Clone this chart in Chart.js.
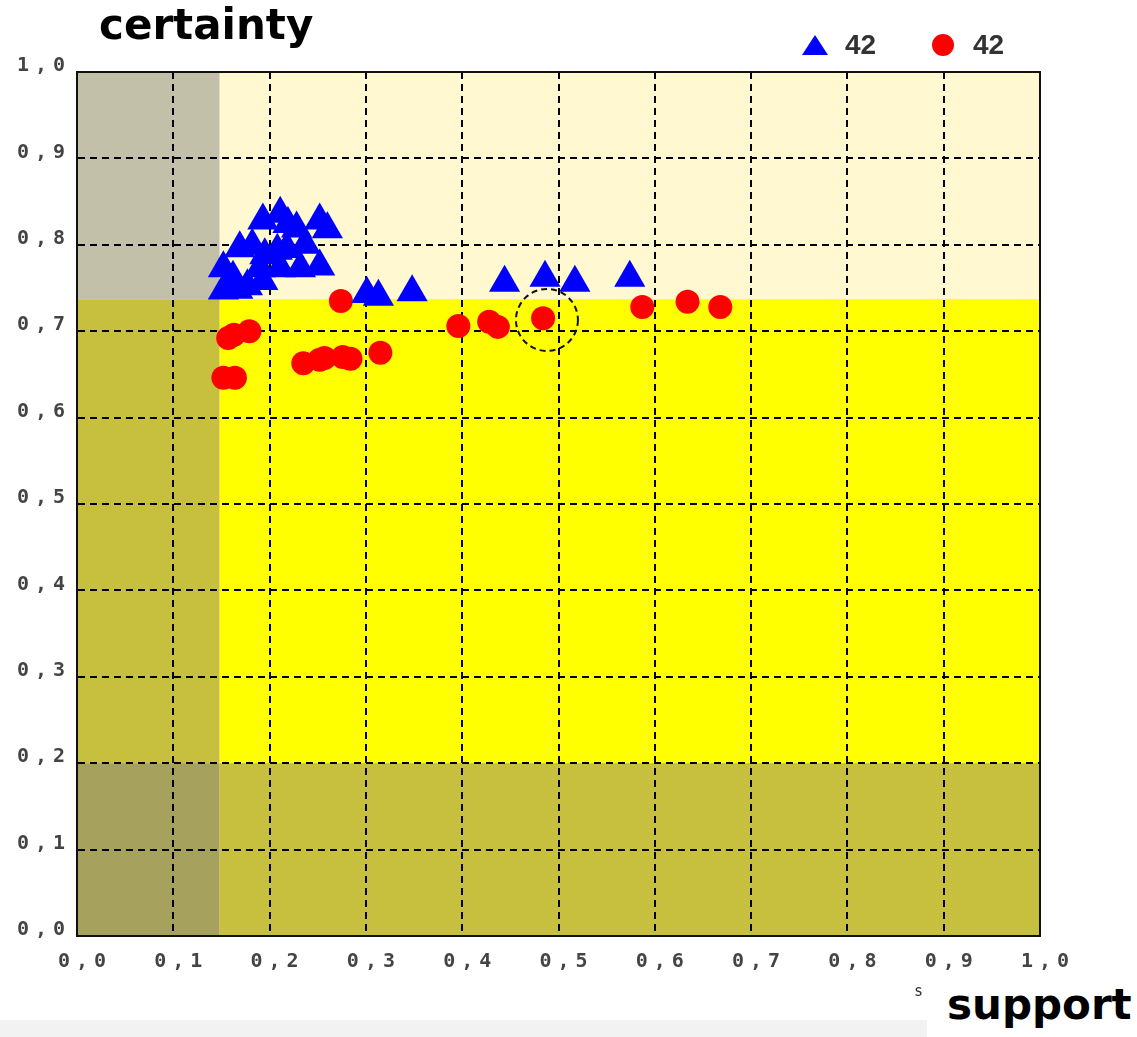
<!DOCTYPE html>
<html>
<head>
<meta charset="utf-8">
<script src="https://cdn.jsdelivr.net/npm/chart.js@4/dist/chart.umd.min.js"></script>
<style>
  body { margin: 0; background: #fff; }
  #wrap { position: relative; width: 1137px; height: 1037px; overflow: hidden; }
  #c { position: absolute; left: 0; top: 0; }
  .strip { position: absolute; left: 0; top: 1020px; width: 930px; height: 17px; background: #f2f2f2; }
  .big { position: absolute; font-family: "DejaVu Sans"; font-weight: bold; font-size: 42px; line-height: 42px; color: #000; background: #fff; }
  .cut { position: absolute; left: 914px; top: 982px; font-family: "DejaVu Sans Mono"; font-size: 15px; color: #333; }
  .legend { position: absolute; top: 30px; font-family: "Liberation Sans"; font-weight: bold; font-size: 28px; line-height: 30px; color: #333; }
  .legend span { position: absolute; }
  .tri { width: 0; height: 0; border-left: 13px solid transparent; border-right: 13px solid transparent; border-bottom: 20px solid #0000ff; }
  .dot { width: 22px; height: 22px; border-radius: 50%; background: #ff0000; }
</style>
</head>
<body>
<div id="wrap">
  <canvas id="c" width="1137" height="1037"></canvas>
  <div class="strip"></div>
  <div class="cut">s</div>
  <div class="big" style="left:99px; top:4px; padding-right:10px;">certainty</div>
  <div class="big" style="left:927px; top:978px; width:190px; height:59px; padding-left:20px; padding-top:6px; box-sizing:content-box;">support</div>
  <div id="legend"></div>
</div>
<script>
  // series labels (legend shows the count)
  const seriesNames = ['42', '42'];

  // blue triangles
  const triSupport =   [0.211, 0.193, 0.219, 0.252, 0.228, 0.260, 0.169, 0.182, 0.208, 0.218, 0.152, 0.252, 0.162, 0.152, 0.193, 0.177, 0.232, 0.211, 0.190, 0.167, 0.237, 0.195, 0.301, 0.313, 0.348, 0.444, 0.486, 0.517, 0.574];
  const triCertainty = [0.836, 0.828, 0.824, 0.828, 0.819, 0.818, 0.796, 0.799, 0.793, 0.795, 0.773, 0.775, 0.762, 0.747, 0.758, 0.752, 0.773, 0.773, 0.773, 0.748, 0.800, 0.788, 0.743, 0.740, 0.745, 0.756, 0.762, 0.756, 0.762];

  // red circles
  const dotSupport =   [0.274, 0.157, 0.163, 0.179, 0.152, 0.164, 0.235, 0.252, 0.257, 0.276, 0.284, 0.315, 0.396, 0.428, 0.437, 0.484, 0.587, 0.634, 0.668];
  const dotCertainty = [0.735, 0.692, 0.696, 0.700, 0.646, 0.646, 0.663, 0.667, 0.669, 0.670, 0.668, 0.675, 0.706, 0.711, 0.705, 0.715, 0.728, 0.734, 0.728];

  // background zones
  const supportMin = 0.148;
  const certaintyHigh = 0.737;
  const certaintyLow = 0.2;

  // dashed ring around the selected rule
  const selected = { x: 0.488, y: 0.713 };

  const fmt = v => v.toFixed(1).replace('.', ',');
  const tickFont = { family: 'DejaVu Sans Mono', size: 20, weight: 'bold' };

  // legend, html like the rest of the page text
  const legendBox = document.getElementById('legend');
  [['tri', 802, 5, 845], ['dot', 932, 4, 973]].forEach(([cls, mx, my, tx], i) => {
    const row = document.createElement('div');
    row.className = 'legend';
    row.innerHTML = '<span class="' + cls + '" style="left:' + mx + 'px;top:' + my + 'px"></span>' +
      '<span style="left:' + tx + 'px;top:0">' + seriesNames[i] + '</span>';
    legendBox.appendChild(row);
  });

  const zones = {
    id: 'zones',
    beforeDraw(chart) {
      const { ctx, chartArea: a, scales: { x, y } } = chart;
      const xs = x.getPixelForValue(supportMin);
      const yh = y.getPixelForValue(certaintyHigh);
      const yl = y.getPixelForValue(certaintyLow);
      ctx.save();
      const fill = (c, x0, y0, x1, y1) => { ctx.fillStyle = c; ctx.fillRect(x0, y0, x1 - x0, y1 - y0); };
      fill('#fff8d0', xs, a.top, a.right, yh);
      fill('#ffff00', xs, yh, a.right, yl);
      fill('#c6c03e', xs, yl, a.right, a.bottom);
      fill('#c3c0aa', a.left, a.top, xs, yh);
      fill('#c6c03e', a.left, yh, xs, yl);
      fill('#a6a15c', a.left, yl, xs, a.bottom);
      ctx.restore();
    },
    afterDatasetsDraw(chart) {
      const { ctx, chartArea: a, scales: { x, y } } = chart;
      ctx.save();
      ctx.strokeStyle = '#111';
      ctx.lineWidth = 2;
      ctx.setLineDash([]);
      ctx.strokeRect(a.left, a.top, a.right - a.left, a.bottom - a.top);
      ctx.setLineDash([6, 4]);
      ctx.lineWidth = 2;
      ctx.beginPath();
      ctx.arc(x.getPixelForValue(selected.x), y.getPixelForValue(selected.y), 31, 0, Math.PI * 2);
      ctx.stroke();
      ctx.restore();
      // spaced tick text, drawn after this hook (ticks z = 1)
      ctx.letterSpacing = '6px';
    },
    afterDraw(chart) {
      chart.ctx.letterSpacing = '0px';
    }
  };

  new Chart(document.getElementById('c'), {
    type: 'scatter',
    data: {
      datasets: [{
        label: seriesNames[0],
        data: triSupport.map((v, i) => ({ x: v, y: triCertainty[i] })),
        pointStyle: 'triangle',
        pointRadius: 18,
        backgroundColor: '#0000ff',
        borderColor: '#0000ff',
        borderWidth: 0
      }, {
        label: seriesNames[1],
        data: dotSupport.map((v, i) => ({ x: v, y: dotCertainty[i] })),
        pointStyle: 'circle',
        pointRadius: 12,
        backgroundColor: '#ff0000',
        borderColor: '#ff0000',
        borderWidth: 0
      }]
    },
    options: {
      responsive: false,
      animation: false,
      devicePixelRatio: 1,
      events: [],
      layout: { padding: { top: 72, right: 97, left: 0, bottom: 0 } },
      plugins: {
        legend: { display: false },
        tooltip: { enabled: false }
      },
      scales: {
        x: {
          type: 'linear',
          min: 0,
          max: 1,
          ticks: { stepSize: 0.1, callback: fmt, padding: 14, labelOffset: 8, color: '#444', font: tickFont, maxRotation: 0, z: 1 },
          grid: { color: '#000', lineWidth: 2, drawTicks: false },
          border: { dash: [7, 5], color: '#000', width: 2 },
          afterFit(s) { s.height = 101; }
        },
        y: {
          type: 'linear',
          min: 0,
          max: 1,
          ticks: { stepSize: 0.1, callback: fmt, padding: 6, labelOffset: -6, color: '#444', font: tickFont, z: 1 },
          grid: { color: '#000', lineWidth: 2, drawTicks: false },
          border: { dash: [7, 5], color: '#000', width: 2 },
          afterFit(s) { s.width = 77; }
        }
      }
    },
    plugins: [zones]
  });
</script>
</body>
</html>
